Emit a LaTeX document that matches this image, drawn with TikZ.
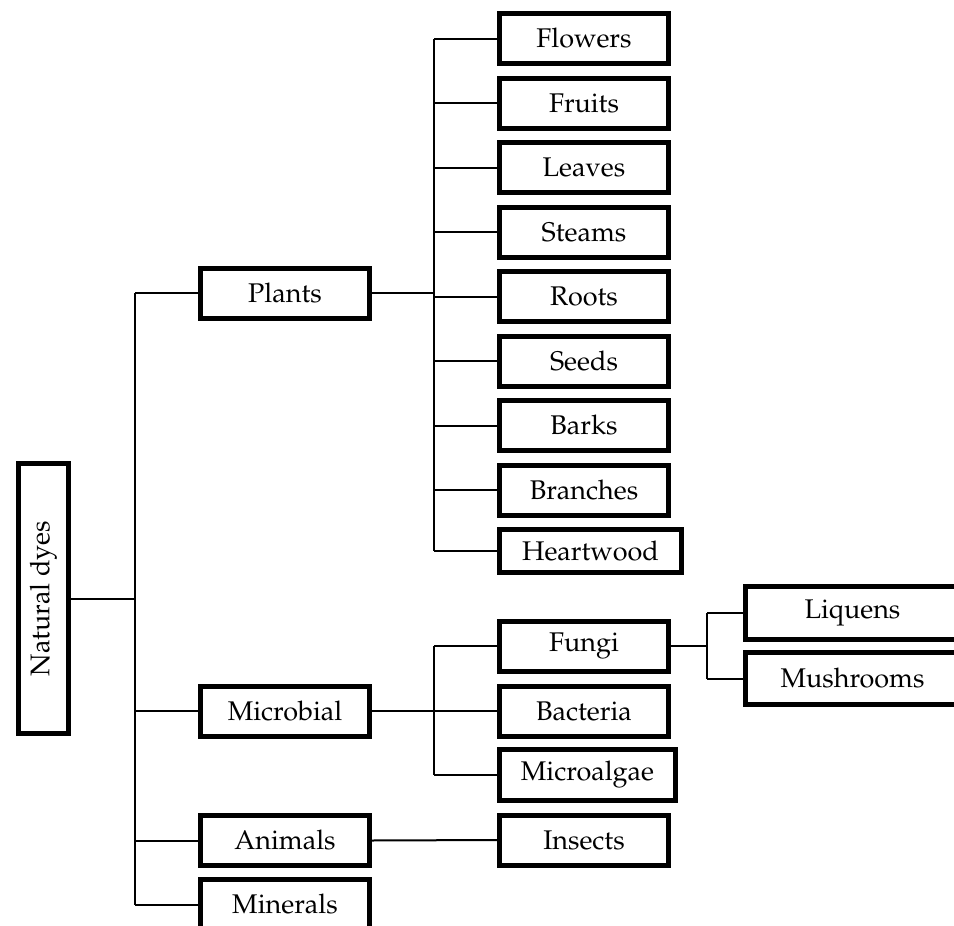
\documentclass[tikz,border=0pt]{standalone}
\usepackage[T1]{fontenc}
\usepackage{mathpazo}
\begin{document}
\begin{tikzpicture}[x=1pt,y=-1pt,
  box/.style={draw, line width=5pt, minimum width=169pt, minimum height=50pt, inner sep=0pt, font=\fontsize{27}{32}\selectfont},
  conn/.style={line width=2pt}]
\useasboundingbox (0,0) rectangle (954,926);
% root
\node[box, rotate=90, minimum width=270pt, minimum height=50pt] (nd) at (43.5,598.5) {Natural dyes};
% level 1
\node[box] (plants) at (285,293) {Plants};
\node[box] (micro) at (285,711) {Microbial};
\node[box] (animals) at (285,840.5) {Animals};
\node[box] (minerals) at (285,904.5) {Minerals};
% plant parts
\node[box] (flowers) at (584,38.5) {Flowers};
\node[box] (fruits) at (584,103) {Fruits};
\node[box] (leaves) at (584,167.5) {Leaves};
\node[box] (steams) at (584,232) {Steams};
\node[box] (roots) at (584,296.5) {Roots};
\node[box] (seeds) at (584,361) {Seeds};
\node[box] (barks) at (584,425.5) {Barks};
\node[box] (branches) at (584,490) {Branches};
\node[box, minimum width=182pt, minimum height=43pt] (heart) at (590.5,551) {Heartwood};
% microbial
\node[box] (fungi) at (584,646) {Fungi};
\node[box] (bacteria) at (584,711) {Bacteria};
\node[box, minimum width=176pt, minimum height=51pt] (algae) at (587.5,775) {Microalgae};
\node[box] (insects) at (584,840) {Insects};
% fungi
\node[box, minimum width=214pt, minimum height=53pt] (liquens) at (852.5,613) {Liquens};
\node[box, minimum width=214pt, minimum height=52pt] (mush) at (852.5,678.5) {Mushrooms};
% junction coordinates
\coordinate (t) at (135,0);
\coordinate (p) at (434,0);
\coordinate (f) at (707,0);
% trunk
\draw[conn] (nd.south) -- (nd.south -| t);
\draw[conn] (t |- plants.west) -- (t |- minerals.west);
\foreach \n in {plants,micro,animals,minerals}{
  \draw[conn] (t |- \n.west) -- (\n.west);
}
% plants
\draw[conn] (plants.east) -- (plants.east -| p);
\draw[conn] (p |- flowers.west) -- (p |- heart.west);
\foreach \n in {flowers,fruits,leaves,steams,roots,seeds,barks,branches,heart}{
  \draw[conn] (p |- \n.west) -- (\n.west);
}
% microbial
\draw[conn] (micro.east) -- (micro.east -| p);
\draw[conn] (p |- fungi.west) -- (p |- algae.west);
\foreach \n in {fungi,bacteria,algae}{
  \draw[conn] (p |- \n.west) -- (\n.west);
}
% animals
\draw[conn] (animals.east) -- (insects.west);
% fungi
\draw[conn] (fungi.east) -- (fungi.east -| f);
\draw[conn] (f |- liquens.west) -- (f |- mush.west);
\foreach \n in {liquens,mush}{
  \draw[conn] (f |- \n.west) -- (\n.west);
}
\end{tikzpicture}
\end{document}
